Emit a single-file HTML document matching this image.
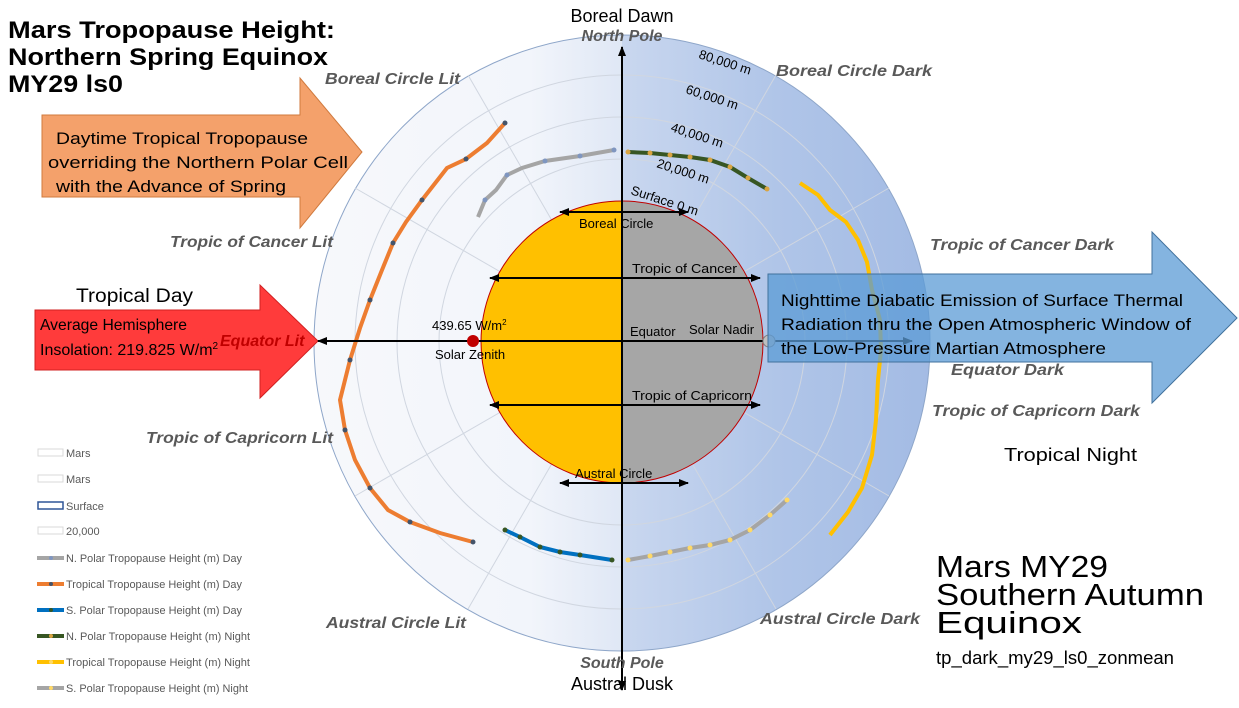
<!DOCTYPE html>
<html><head><meta charset="utf-8"><style>
body{margin:0;background:#fff;}
svg text{font-family:"Liberation Sans",sans-serif;}
.it{font-style:italic;font-weight:bold;fill:#595959;font-size:16px;}
</style></head><body>
<svg width="1239" height="703" viewBox="0 0 1239 703" xmlns="http://www.w3.org/2000/svg">
<defs>
<linearGradient id="lg" x1="0" x2="1" y1="0" y2="0">
<stop offset="0" stop-color="#f7f8fb"/><stop offset="0.35" stop-color="#f2f5fb"/><stop offset="0.5" stop-color="#dfe7f5"/><stop offset="0.5" stop-color="#c9d7ef"/><stop offset="0.75" stop-color="#b0c5e8"/><stop offset="1" stop-color="#a3bbe4"/>
</linearGradient>
<marker id="ah" markerWidth="10" markerHeight="8" refX="9" refY="4" orient="auto-start-reverse" markerUnits="userSpaceOnUse"><path d="M0,0 L10,4 L0,8 z" fill="#000"/></marker>
</defs>
<circle cx="622" cy="343" r="308" fill="url(#lg)" stroke="#8ea6c9" stroke-width="1"/>
<g fill="none" stroke="#d0d6e0" stroke-width="1">
<circle cx="622" cy="342" r="183"/><circle cx="622" cy="342" r="225"/><circle cx="622" cy="342" r="267"/>
<line x1="622" y1="342" x2="776" y2="75"/><line x1="622" y1="342" x2="889" y2="188"/><line x1="622" y1="342" x2="889" y2="496"/><line x1="622" y1="342" x2="776" y2="609"/>
<line x1="622" y1="342" x2="468" y2="75"/><line x1="622" y1="342" x2="355" y2="188"/><line x1="622" y1="342" x2="355" y2="496"/><line x1="622" y1="342" x2="468" y2="609"/>
</g>
<path d="M622,201 A141,141 0 0 0 622,483 Z" fill="#ffc000"/>
<path d="M622,201 A141,141 0 0 1 622,483 Z" fill="#a6a6a6"/>
<circle cx="622" cy="342" r="141" fill="none" stroke="#c00000" stroke-width="1"/>
<polyline fill="none" stroke="#ed7d31" stroke-width="4" points="505,123 487,143 466,159 447,168 422,200 406,222 393,243 382,270 370,300 360,328 350,360 340,400 345,430 355,460 370,488 388,510 410,522 440,533 473,542"/>
<g fill="#44546a"><circle cx="505" cy="123" r="2.5"/><circle cx="466" cy="159" r="2.5"/><circle cx="422" cy="200" r="2.5"/><circle cx="393" cy="243" r="2.5"/><circle cx="370" cy="300" r="2.5"/><circle cx="350" cy="360" r="2.5"/><circle cx="345" cy="430" r="2.5"/><circle cx="370" cy="488" r="2.5"/><circle cx="410" cy="522" r="2.5"/><circle cx="473" cy="542" r="2.5"/></g>
<polyline fill="none" stroke="#a5a5a5" stroke-width="4" points="478,217 485,200 496,190 507,175 522,168 545,161 580,156 614,150"/>
<g fill="#7f96c0"><circle cx="485" cy="200" r="2.5"/><circle cx="507" cy="175" r="2.5"/><circle cx="545" cy="161" r="2.5"/><circle cx="580" cy="156" r="2.5"/><circle cx="614" cy="150" r="2.5"/></g>
<polyline fill="none" stroke="#375623" stroke-width="4" points="628,152 650,153 670,155 690,157 710,160 730,167 748,178 767,189"/>
<g fill="#d9a441"><circle cx="628" cy="152" r="2.5"/><circle cx="650" cy="153" r="2.5"/><circle cx="670" cy="155" r="2.5"/><circle cx="690" cy="157" r="2.5"/><circle cx="710" cy="160" r="2.5"/><circle cx="730" cy="167" r="2.5"/><circle cx="748" cy="178" r="2.5"/><circle cx="767" cy="189" r="2.5"/></g>
<polyline fill="none" stroke="#ffc000" stroke-width="4" points="800,183 818,195 830,210 846,222 858,240 867,262 872,290 880,320 881,350 878,380 876,420 872,455 862,488 848,512 830,535"/>
<polyline fill="none" stroke="#0070c0" stroke-width="4" points="505,530 520,537 540,547 560,552 580,555 612,560"/>
<g fill="#375623"><circle cx="505" cy="530" r="2.5"/><circle cx="520" cy="537" r="2.5"/><circle cx="540" cy="547" r="2.5"/><circle cx="560" cy="552" r="2.5"/><circle cx="580" cy="555" r="2.5"/><circle cx="612" cy="560" r="2.5"/></g>
<polyline fill="none" stroke="#a5a5a5" stroke-width="4" points="628,560 650,556 670,552 690,548 710,545 730,540 750,530 770,515 787,500"/>
<g fill="#ffd966"><circle cx="628" cy="560" r="2.5"/><circle cx="650" cy="556" r="2.5"/><circle cx="670" cy="552" r="2.5"/><circle cx="690" cy="548" r="2.5"/><circle cx="710" cy="545" r="2.5"/><circle cx="730" cy="540" r="2.5"/><circle cx="750" cy="530" r="2.5"/><circle cx="770" cy="515" r="2.5"/><circle cx="787" cy="500" r="2.5"/></g>
<polygon points="42,115 300,115 300,78 362,152 300,228 300,197 42,197" fill="#f4a16b" stroke="#d07a3e" stroke-width="1"/>
<polygon points="35,310 260,310 260,285 318,341 260,398 260,370 35,370" fill="#ff3b3b" stroke="#d02020" stroke-width="1"/>
<g stroke="#000" stroke-width="2" fill="none">
<line x1="622" y1="690" x2="622" y2="47" marker-end="url(#ah)" marker-start="url(#ah)"/>
<line x1="560" y1="212" x2="688" y2="212" marker-end="url(#ah)" marker-start="url(#ah)"/>
<line x1="490" y1="278" x2="760" y2="278" marker-end="url(#ah)" marker-start="url(#ah)"/>
<line x1="318" y1="341" x2="912" y2="341" marker-end="url(#ah)" marker-start="url(#ah)"/>
<line x1="490" y1="405" x2="760" y2="405" marker-end="url(#ah)" marker-start="url(#ah)"/>
<line x1="560" y1="483" x2="688" y2="483" marker-end="url(#ah)" marker-start="url(#ah)"/>
</g>
<circle cx="473" cy="341" r="6" fill="#c00000"/>
<circle cx="769" cy="341" r="6" fill="#bfbfbf" stroke="#7f7f7f"/>
<polygon points="768,274 1152,274 1152,232 1237,318 1152,403 1152,362 768,362" fill="#5b9bd5" fill-opacity="0.75" stroke="#41719c" stroke-width="1"/>
<g font-size="24" font-weight="bold" fill="#000"><text x="8" y="38" textLength="327" lengthAdjust="spacingAndGlyphs">Mars Tropopause Height:</text><text x="8" y="65" textLength="320" lengthAdjust="spacingAndGlyphs">Northern Spring Equinox</text><text x="8" y="92" textLength="115" lengthAdjust="spacingAndGlyphs">MY29 ls0</text></g>
<g font-size="17" fill="#000"><text x="56" y="144" textLength="252" lengthAdjust="spacingAndGlyphs">Daytime Tropical Tropopause</text><text x="48" y="168" textLength="300" lengthAdjust="spacingAndGlyphs">overriding the Northern Polar Cell</text><text x="56" y="192" textLength="230" lengthAdjust="spacingAndGlyphs">with the Advance of Spring</text></g>
<text x="76" y="302" font-size="19" textLength="117" lengthAdjust="spacingAndGlyphs">Tropical Day</text>
<text x="40" y="330" font-size="16" textLength="147" lengthAdjust="spacingAndGlyphs">Average Hemisphere</text>
<text x="40" y="355" font-size="16">Insolation: 219.825 W/m<tspan font-size="10" dy="-6">2</tspan></text>
<text x="220" y="346" class="it" style="fill:#c00000">Equator Lit</text>
<g font-size="17" fill="#000"><text x="781" y="306" textLength="402" lengthAdjust="spacingAndGlyphs">Nighttime Diabatic Emission of Surface Thermal</text><text x="781" y="330" textLength="410" lengthAdjust="spacingAndGlyphs">Radiation thru the Open Atmospheric Window of</text><text x="781" y="354" textLength="325" lengthAdjust="spacingAndGlyphs">the Low-Pressure  Martian Atmosphere</text></g>
<text x="622" y="22" text-anchor="middle" font-size="18">Boreal Dawn</text>
<text x="622" y="41" text-anchor="middle" class="it">North Pole</text>
<text x="622" y="668" text-anchor="middle" class="it">South Pole</text>
<text x="622" y="690" text-anchor="middle" font-size="18">Austral Dusk</text>
<text x="325" y="84" class="it" textLength="135" lengthAdjust="spacingAndGlyphs">Boreal Circle Lit</text>
<text x="776" y="76" class="it" textLength="156" lengthAdjust="spacingAndGlyphs">Boreal Circle Dark</text>
<text x="170" y="247" class="it" textLength="163" lengthAdjust="spacingAndGlyphs">Tropic of Cancer Lit</text>
<text x="930" y="250" class="it" textLength="184" lengthAdjust="spacingAndGlyphs">Tropic of Cancer Dark</text>
<text x="951" y="375" class="it" textLength="113" lengthAdjust="spacingAndGlyphs">Equator Dark</text>
<text x="146" y="443" class="it" textLength="187" lengthAdjust="spacingAndGlyphs">Tropic of Capricorn Lit</text>
<text x="932" y="416" class="it" textLength="208" lengthAdjust="spacingAndGlyphs">Tropic of Capricorn Dark</text>
<text x="1004" y="461" font-size="18" textLength="133" lengthAdjust="spacingAndGlyphs">Tropical Night</text>
<text x="326" y="628" class="it" textLength="140" lengthAdjust="spacingAndGlyphs">Austral Circle Lit</text>
<text x="760" y="624" class="it" textLength="160" lengthAdjust="spacingAndGlyphs">Austral Circle Dark</text>
<g font-size="13" fill="#000">
<text x="698" y="58" transform="rotate(18 698 58)">80,000 m</text>
<text x="685" y="93" transform="rotate(18 685 93)">60,000 m</text>
<text x="670" y="131" transform="rotate(18 670 131)">40,000 m</text>
<text x="656" y="167" transform="rotate(18 656 167)">20,000 m</text>
<text x="630" y="194" transform="rotate(18 630 194)">Surface 0 m</text>
<text x="579" y="228">Boreal Circle</text>
<text x="632" y="273" textLength="105" lengthAdjust="spacingAndGlyphs">Tropic of Cancer</text>
<text x="630" y="336">Equator</text>
<text x="689" y="334">Solar Nadir</text>
<text x="432" y="330">439.65 W/m<tspan font-size="8" dy="-5">2</tspan></text>
<text x="435" y="359">Solar Zenith</text>
<text x="632" y="400" textLength="120" lengthAdjust="spacingAndGlyphs">Tropic of Capricorn</text>
<text x="575" y="478">Austral Circle</text>
</g>
<g font-size="31" fill="#000"><text x="936" y="577" textLength="172" lengthAdjust="spacingAndGlyphs">Mars MY29</text><text x="936" y="605" textLength="268" lengthAdjust="spacingAndGlyphs">Southern Autumn</text><text x="936" y="633" textLength="146" lengthAdjust="spacingAndGlyphs">Equinox</text></g>
<text x="936" y="664" font-size="18" textLength="238" lengthAdjust="spacingAndGlyphs">tp_dark_my29_ls0_zonmean</text>
<g font-size="11" fill="#595959">
<rect x="38" y="449" width="25" height="7" fill="#fff" stroke="#d9d9d9"/><text x="66" y="457">Mars</text>
<rect x="38" y="475" width="25" height="7" fill="#fff" stroke="#d9d9d9"/><text x="66" y="483">Mars</text>
<rect x="38" y="502" width="25" height="7" fill="#fff" stroke="#2f5597" stroke-width="1.5"/><text x="66" y="510">Surface</text>
<rect x="38" y="527" width="25" height="7" fill="#fff" stroke="#d9d9d9"/><text x="66" y="535">20,000</text>
<line x1="37" y1="558" x2="64" y2="558" stroke="#a5a5a5" stroke-width="4"/><circle cx="51" cy="558" r="2" fill="#7f96c0"/><text x="66" y="562" textLength="176" lengthAdjust="spacingAndGlyphs">N. Polar Tropopause Height (m) Day</text>
<line x1="37" y1="584" x2="64" y2="584" stroke="#ed7d31" stroke-width="4"/><circle cx="51" cy="584" r="2" fill="#44546a"/><text x="66" y="588" textLength="176" lengthAdjust="spacingAndGlyphs">Tropical Tropopause Height (m) Day</text>
<line x1="37" y1="610" x2="64" y2="610" stroke="#0070c0" stroke-width="4"/><circle cx="51" cy="610" r="2" fill="#375623"/><text x="66" y="614" textLength="176" lengthAdjust="spacingAndGlyphs">S. Polar Tropopause Height (m) Day</text>
<line x1="37" y1="636" x2="64" y2="636" stroke="#375623" stroke-width="4"/><circle cx="51" cy="636" r="2" fill="#d9a441"/><text x="66" y="640" textLength="184" lengthAdjust="spacingAndGlyphs">N. Polar Tropopause Height (m) Night</text>
<line x1="37" y1="662" x2="64" y2="662" stroke="#ffc000" stroke-width="4"/><circle cx="51" cy="662" r="2" fill="#ffd966"/><text x="66" y="666" textLength="184" lengthAdjust="spacingAndGlyphs">Tropical Tropopause Height (m) Night</text>
<line x1="37" y1="688" x2="64" y2="688" stroke="#a5a5a5" stroke-width="4"/><circle cx="51" cy="688" r="2" fill="#ffd966"/><text x="66" y="692" textLength="182" lengthAdjust="spacingAndGlyphs">S. Polar Tropopause Height (m) Night</text>
</g>
</svg>
</body></html>
